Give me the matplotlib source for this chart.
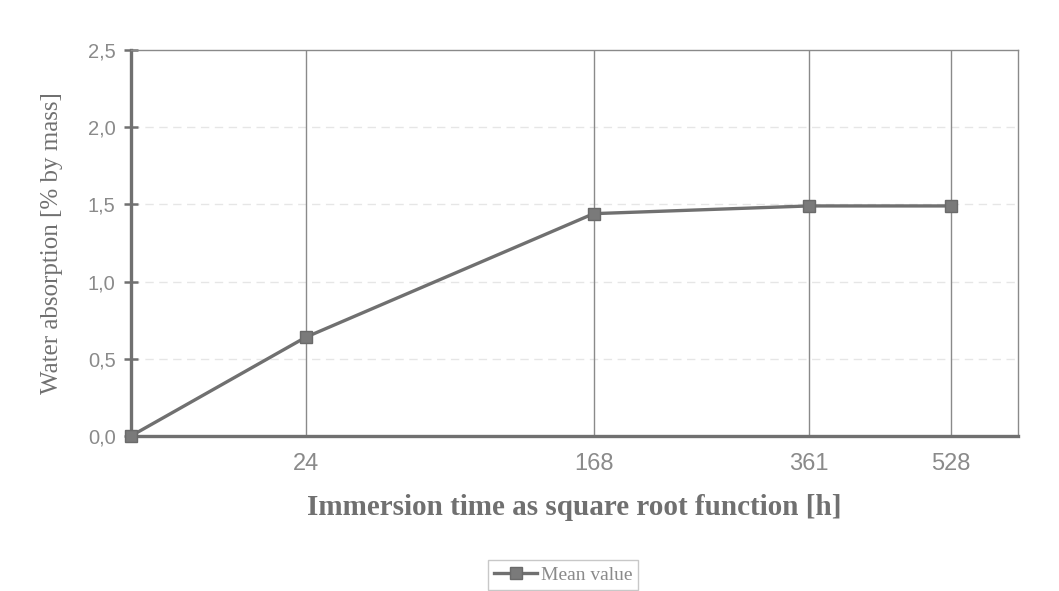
import numpy as np
import matplotlib.pyplot as plt
from matplotlib.ticker import FuncFormatter

time_h = [0, 24, 168, 361, 528]
absorption = [0.0, 0.64, 1.44, 1.49, 1.49]
xtick_labels = ["24", "168", "361", "528"]
yticks = [0.0, 0.5, 1.0, 1.5, 2.0, 2.5]

x = np.sqrt(time_h)

fig = plt.figure(figsize=(10.59, 5.91), dpi=100)
ax = fig.add_axes([0.1237, 0.2623, 0.8376, 0.6531])

line_col = "#707070"
ax.plot(x, absorption, color=line_col, lw=2.4, marker="s", markersize=8,
        markerfacecolor="#7a7a7a", markeredgecolor="#6a6a6a", label="Mean value",
        zorder=3, clip_on=False)

ax.set_xlim(0, 24.85)
ax.set_ylim(0, 2.5)

ax.set_xticks(x[1:])
ax.set_xticklabels(xtick_labels)
ax.set_yticks(yticks)
ax.yaxis.set_major_formatter(FuncFormatter(lambda v, p: f"{v:.1f}".replace(".", ",")))

for xv in x[1:]:
    ax.axvline(xv, color="#8a8a8a", lw=1.0, zorder=1)
for yv in yticks[1:-1]:
    ax.axhline(yv, color="#e6e6e6", lw=1.0, ls=(0, (6, 4)), zorder=0)

for s in ["top", "right"]:
    ax.spines[s].set_color("#8a8a8a")
    ax.spines[s].set_linewidth(1.0)
for s in ["left", "bottom"]:
    ax.spines[s].set_color("#707070")
    ax.spines[s].set_linewidth(2.4)

ax.tick_params(axis="y", direction="inout", length=10, width=1.8, color="#707070",
               labelsize=14.5, labelcolor="#8a8a8a", pad=6)
ax.tick_params(axis="x", length=0, labelsize=17, labelcolor="#8a8a8a", pad=12)
for lab in ax.get_xticklabels() + ax.get_yticklabels():
    lab.set_family("Liberation Sans")

ax.set_ylabel("Water absorption [% by mass]", family="Liberation Serif",
              fontsize=18, color="#707070", labelpad=18)
ax.set_xlabel("Immersion time as square root function [h]", family="Liberation Serif",
              fontsize=21, fontweight="bold", color="#707070", labelpad=14)

leg = fig.legend(loc="center", bbox_to_anchor=(0.532, 0.027), frameon=True,
                 prop={"family": "Liberation Serif", "size": 14}, fancybox=False,
                 handlelength=2.2, handletextpad=0.2, borderpad=0.3)
leg.get_frame().set_edgecolor("#bbbbbb")
leg.get_frame().set_linewidth(1.0)
for t in leg.get_texts():
    t.set_color("#8a8a8a")

fig.savefig("out.png", dpi=100)
